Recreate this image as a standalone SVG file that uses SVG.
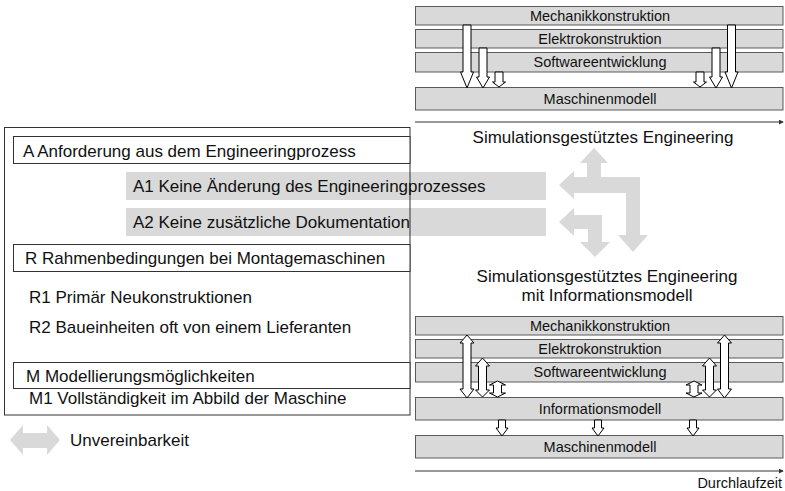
<svg xmlns="http://www.w3.org/2000/svg" width="785" height="491" viewBox="0 0 785 491">
<defs>
<style>
text{font-family:"Liberation Sans",Arial,sans-serif;fill:#111}
.bar{fill:#d9d9d9;stroke:#5a5a5a;stroke-width:1}
.bt{font-size:14.5px;text-anchor:middle}
.lt{font-size:17px}
.hd{font-size:17px;text-anchor:middle}
.box{fill:#fff;stroke:#333;stroke-width:1}
.gb{fill:#d9d9d9}
.ga{fill:#d9d9d9}
.wa{fill:#fff;stroke:#000;stroke-width:1;stroke-linejoin:miter}
.ax{stroke:#333;stroke-width:1.2;fill:none}
</style>
<marker id="ah" viewBox="0 0 6 6" refX="5" refY="3" markerWidth="5" markerHeight="5" orient="auto" markerUnits="userSpaceOnUse"><path d="M0,0 L6,3 L0,6 Z" fill="#333"/></marker>
</defs>
<rect width="785" height="491" fill="#fff"/>

<!-- Left panel -->
<g id="gray-bars">
<rect class="gb" x="126" y="172" width="420" height="28"/>
<rect class="gb" x="126" y="208" width="420" height="28"/>
</g>
<g id="panel">
<rect x="4.5" y="127.5" width="405.5" height="287.5" fill="none" stroke="#333" stroke-width="1"/>
</g>
<g id="nodeA"><rect class="box" x="13.5" y="136.5" width="396.5" height="27"/><text class="lt" x="23" y="157">A Anforderung aus dem Engineeringprozess</text></g>
<g id="nodeA1"><text class="lt" x="133" y="192">A1 Keine Änderung des Engineeringprozesses</text></g>
<g id="nodeA2"><text class="lt" x="133" y="228">A2 Keine zusätzliche Dokumentation</text></g>
<g id="nodeR"><rect class="box" x="13.5" y="244.5" width="396.5" height="27"/><text class="lt" x="25" y="264">R Rahmenbedingungen bei Montagemaschinen</text></g>
<g id="nodeR1"><text class="lt" x="29" y="303">R1 Primär Neukonstruktionen</text></g>
<g id="nodeR2"><text class="lt" x="29" y="333">R2 Baueinheiten oft von einem Lieferanten</text></g>
<g id="nodeM"><rect class="box" x="13.5" y="362.5" width="396.5" height="26"/><text class="lt" x="26" y="382">M Modellierungsmöglichkeiten</text></g>
<g id="nodeM1"><text class="lt" x="29" y="404">M1 Vollständigkeit im Abbild der Maschine</text></g>

<g id="legend">
<path class="ga" d="M10,440 L23,425 L23,433 L47,433 L47,425 L60,440 L47,455 L47,448 L23,448 L23,455 Z"/>
<text class="lt" x="70" y="446">Unvereinbarkeit</text>
</g>

<g id="incompat-arrows">
<path class="ga" d="M559,185 L574,171 L574,177 L587,177 L587,163 L580,163 L594,148 L608,163 L601,163 L601,177 L640,177 L640,235 L648,235 L633,252 L618,235 L626,235 L626,193 L574,193 L574,199 Z"/>
<path class="ga" d="M559,222 L574,208 L574,215 L602,215 L602,242 L610,242 L595,257 L580,242 L588,242 L588,229 L574,229 L574,236 Z"/>
</g>

<!-- Top diagram -->
<g id="top-bars">
<g id="t-mech"><rect class="bar" x="415.5" y="6.5" width="367.5" height="18.5"/><text class="bt" x="600" y="21">Mechanikkonstruktion</text></g>
<g id="t-elek"><rect class="bar" x="415.5" y="29.5" width="367.5" height="18.5"/><text class="bt" x="600" y="44">Elektrokonstruktion</text></g>
<g id="t-soft"><rect class="bar" x="415.5" y="52.5" width="367.5" height="19.5"/><text class="bt" x="600" y="67">Softwareentwicklung</text></g>
<g id="t-masch"><rect class="bar" x="415.5" y="87.5" width="367.5" height="22.5"/><text class="bt" x="600" y="104">Maschinenmodell</text></g>
</g>
<g id="top-connectors">
<path class="wa" d="M463,25 L471,25 L471,72 L473.5,72 L467,88 L460.5,72 L463,72 Z"/>
<path class="wa" d="M479,48 L487,48 L487,77 L489.5,77 L483,88 L476.5,77 L479,77 Z"/>
<path class="wa" d="M495,72 L503,72 L503,82 L505.5,82 L499,87 L492.5,82 L495,82 Z"/>
<path class="wa" d="M696,72 L704,72 L704,82 L706.5,82 L700,87 L693.5,82 L696,82 Z"/>
<path class="wa" d="M712,48 L720,48 L720,77 L722.5,77 L716,88 L709.5,77 L712,77 Z"/>
<path class="wa" d="M727.5,25 L735.5,25 L735.5,72 L738,72 L731.5,88 L725,72 L727.5,72 Z"/>
<line class="ax" x1="415" y1="122" x2="783" y2="122" marker-end="url(#ah)"/>
</g>
<text class="hd" x="603" y="143">Simulationsgestütztes Engineering</text>

<!-- Bottom diagram -->
<text class="hd" x="607" y="282">Simulationsgestütztes Engineering</text>
<text class="hd" x="607" y="301">mit Informationsmodell</text>
<g id="bottom-bars">
<g id="b-mech"><rect class="bar" x="415.5" y="316.5" width="367.5" height="18.5"/><text class="bt" x="600" y="331">Mechanikkonstruktion</text></g>
<g id="b-elek"><rect class="bar" x="415.5" y="339.5" width="367.5" height="18.5"/><text class="bt" x="600" y="354">Elektrokonstruktion</text></g>
<g id="b-soft"><rect class="bar" x="415.5" y="362.5" width="367.5" height="19.5"/><text class="bt" x="600" y="377">Softwareentwicklung</text></g>
<g id="b-info"><rect class="bar" x="415.5" y="397.5" width="367.5" height="22.5"/><text class="bt" x="600" y="414">Informationsmodell</text></g>
<g id="b-masch"><rect class="bar" x="415.5" y="435.5" width="367.5" height="22.5"/><text class="bt" x="600" y="452">Maschinenmodell</text></g>
</g>
<g id="bottom-connectors">
<path class="wa" d="M467,335 L474,343 L471,343 L471,389 L474,389 L467,398 L460,389 L463,389 L463,343 L460,343 Z"/>
<path class="wa" d="M482.5,358 L489.5,366 L486.5,366 L486.5,390 L489.5,390 L482.5,397 L475.5,390 L478.5,390 L478.5,366 L475.5,366 Z"/>
<path class="wa" d="M497.5,381 L505.5,385 L501.5,385 L501.5,393 L505.5,393 L497.5,397 L489.5,393 L493.5,393 L493.5,385 L489.5,385 Z"/>
<path class="wa" d="M694,381 L702,385 L698,385 L698,393 L702,393 L694,397 L686,393 L690,393 L690,385 L686,385 Z"/>
<path class="wa" d="M709.5,358 L716.5,366 L713.5,366 L713.5,390 L716.5,390 L709.5,397 L702.5,390 L705.5,390 L705.5,366 L702.5,366 Z"/>
<path class="wa" d="M724.5,335 L731.5,343 L728.5,343 L728.5,389 L731.5,389 L724.5,398 L717.5,389 L720.5,389 L720.5,343 L717.5,343 Z"/>
<path class="wa" d="M498.5,420 L505.5,420 L505.5,428 L508,428 L502,436 L496,428 L498.5,428 Z"/>
<path class="wa" d="M594.5,420 L601.5,420 L601.5,428 L604,428 L598,436 L592,428 L594.5,428 Z"/>
<path class="wa" d="M689.5,420 L696.5,420 L696.5,428 L699,428 L693,436 L687,428 L689.5,428 Z"/>
<line class="ax" x1="415" y1="471" x2="783" y2="471" marker-end="url(#ah)"/>
</g>
<text style="font-size:14.5px;text-anchor:end" x="782" y="488">Durchlaufzeit</text>
</svg>
